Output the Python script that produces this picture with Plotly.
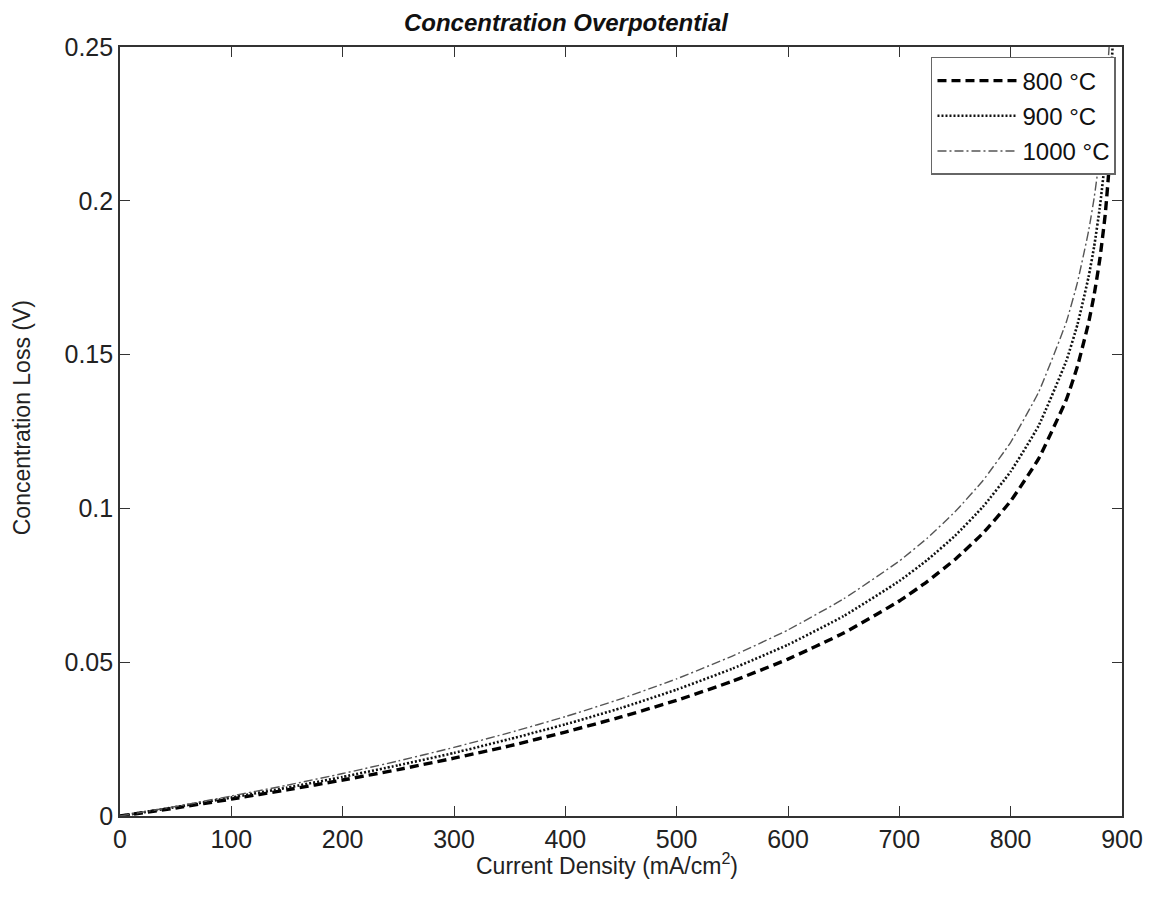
import plotly.graph_objects as go

# Current density (mA/cm^2) sample points
current_density = [0, 50, 100, 150, 200, 250, 300, 350, 400, 450, 500, 550, 600,
                   650, 700, 725, 750, 775, 800, 825, 850, 860, 870, 875, 880, 885,
                   890, 893]

# Concentration loss (V) at each temperature
loss_800 = [0.0, 0.0026, 0.0055, 0.0085, 0.0117, 0.0151, 0.0188, 0.0228, 0.0273,
            0.0322, 0.0376, 0.0438, 0.0510, 0.0595, 0.0699, 0.0762, 0.0834, 0.0919,
            0.1024, 0.1161, 0.1354, 0.1462, 0.1604, 0.1695, 0.1808, 0.1958, 0.2183,
            0.2400]
loss_900 = [0.0, 0.0029, 0.0060, 0.0092, 0.0127, 0.0165, 0.0205, 0.0250, 0.0298,
            0.0351, 0.0411, 0.0479, 0.0557, 0.0650, 0.0764, 0.0832, 0.0911, 0.1005,
            0.1120, 0.1268, 0.1480, 0.1598, 0.1753, 0.1852, 0.1976, 0.2140, 0.2386,
            0.2623]
loss_1000 = [0.0, 0.0031, 0.0065, 0.0100, 0.0138, 0.0179, 0.0223, 0.0271, 0.0323,
             0.0381, 0.0446, 0.0520, 0.0605, 0.0706, 0.0829, 0.0903, 0.0989, 0.1090,
             0.1215, 0.1377, 0.1606, 0.1735, 0.1902, 0.2010, 0.2145, 0.2323, 0.2589,
             0.2847]

series_names = ["800 °C", "900 °C", "1000 °C"]

x_ticks = [0, 100, 200, 300, 400, 500, 600, 700, 800, 900]
y_ticks = [0, 0.05, 0.1, 0.15, 0.2, 0.25]
y_tick_text = ["0", "0.05", "0.1", "0.15", "0.2", "0.25"]

FONT = "Liberation Sans, Arial, Helvetica, sans-serif"

fig = go.Figure()
styles = [
    dict(color="#000000", width=3.4, dash="9px,5px"),
    dict(color="#111111", width=2.6, dash="2px,2px"),
    dict(color="#555555", width=1.4, dash="9px,3px,2px,3px"),
]
for name, ys, st in zip(series_names, [loss_800, loss_900, loss_1000], styles):
    fig.add_trace(go.Scatter(
        x=current_density, y=ys, mode="lines", name=name,
        legendgroup=name,
        line=dict(shape="spline", smoothing=0.4, **st),
    ))

axis_common = dict(
    showline=True, linecolor="#333333", linewidth=1.6, mirror="allticks",
    ticks="inside", ticklen=10, tickwidth=1.2, tickcolor="#333333",
    showgrid=False, zeroline=False,
    tickfont=dict(family=FONT, size=25, color="#222222"),
)

fig.update_layout(
    width=1155, height=900,
    margin=dict(l=120, r=30, t=47, b=84),
    paper_bgcolor="white", plot_bgcolor="white",
    title=dict(
        text="<b><i>Concentration Overpotential</i></b>",
        font=dict(family=FONT, size=24, color="#111111"),
        x=0.49, xref="container", xanchor="center",
        y=0.975, yref="container", yanchor="middle",
    ),
    xaxis=dict(range=[0, 900], tickvals=x_ticks, **axis_common),
    yaxis=dict(range=[0, 0.25], tickvals=y_ticks, ticktext=y_tick_text,
               **axis_common),
    legend=dict(
        x=0.994, y=0.987, xanchor="right", yanchor="top",
        bgcolor="white", bordercolor="#666666", borderwidth=1.5,
        font=dict(family=FONT, size=24, color="#111111"),
        tracegroupgap=1, itemwidth=80,
    ),
)

# Axis titles
fig.add_annotation(
    text="Current Density (mA/cm<sup>2</sup>)", showarrow=False,
    xref="paper", yref="paper", x=0.4856, y=-0.040,
    xanchor="center", yanchor="top",
    font=dict(family=FONT, size=23, color="#222222"),
)
fig.add_annotation(
    text="Concentration Loss (V)", showarrow=False, textangle=-90,
    xref="paper", yref="paper", x=-0.0975, y=0.5176,
    xanchor="center", yanchor="middle",
    font=dict(family=FONT, size=23, color="#222222"),
)

fig.write_html("out.html")
